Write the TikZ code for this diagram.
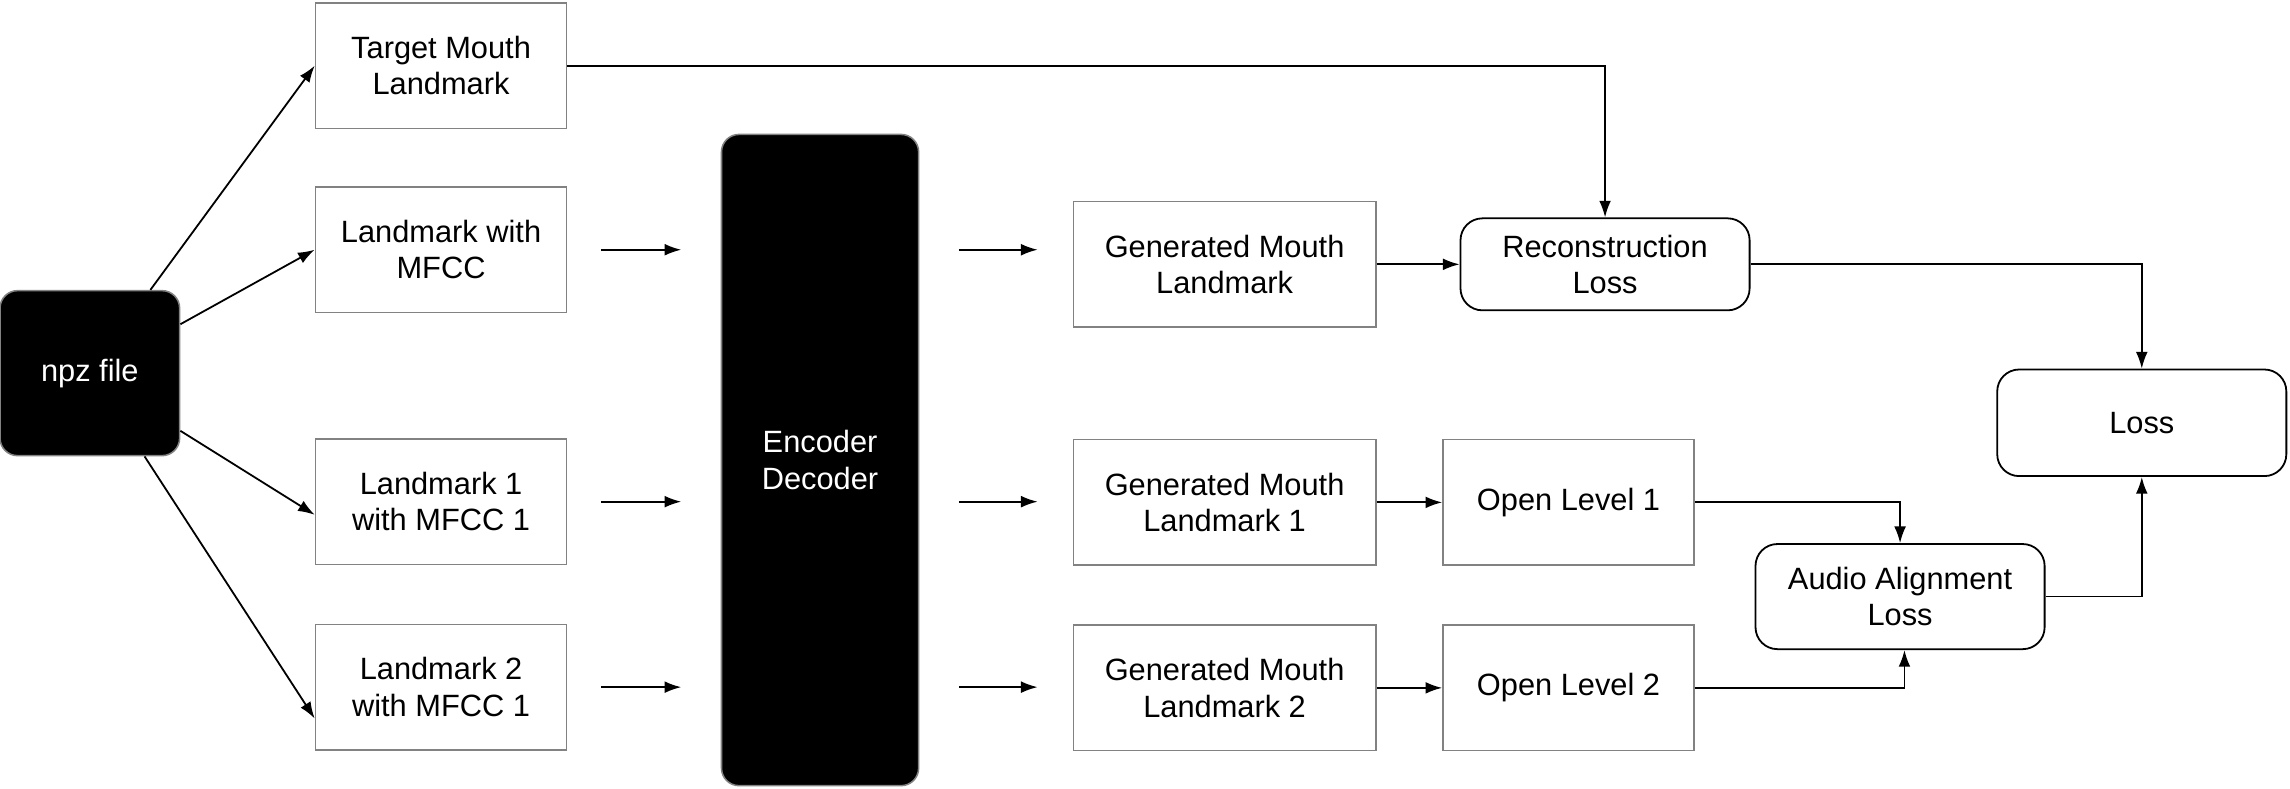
\documentclass[tikz,border=0pt]{standalone}
\usepackage{fontspec}
\setmainfont{Liberation Sans}
\usepackage{tikz}
\usetikzlibrary{calc,positioning,arrows.meta}

\definecolor{boxgray}{RGB}{130,130,130}

\begin{document}
\begin{tikzpicture}[x=0.02cm, y=-0.02cm, >={Latex[length=6.5pt,width=4.6pt]},
    every node/.style={font=\fontsize{12}{14.2}\selectfont, align=center, inner sep=0pt},
    box/.style={draw=boxgray, line width=0.6pt, minimum width=3.44cm, minimum height=1.72cm},
    genbox/.style={box, minimum width=4.14cm},
    blk/.style={draw=boxgray, line width=0.6pt, fill=black, text=white, rounded corners=0.24cm},
    lossbox/.style={draw=black, line width=0.7pt, rounded corners=0.3cm, minimum width=3.96cm},
    conn/.style={->, line width=0.7pt}]
            \useasboundingbox (0,0) rectangle (1568,540);

            \node[blk, minimum width=2.46cm, minimum height=2.26cm] (npz) at (61.5,255.5) {npz file};

            \node[box] (tgt) at (302,45) {Target Mouth\\Landmark};
            \node[box] (lwm) at (302,171) {Landmark with\\MFCC};
            \node[box] (lm1) at (302,343.5) {Landmark 1\\with MFCC 1};
            \node[box] (lm2) at (302,470.5) {Landmark 2\\with MFCC 1};

            \node[blk, minimum width=2.7cm, minimum height=8.92cm] (enc) at (561.5,315) {Encoder\\Decoder};

            \node[genbox] (gml0) at (838.5,181) {Generated Mouth\\Landmark};
            \node[genbox] (gml1) at (838.5,344) {Generated Mouth\\Landmark 1};
            \node[genbox] (gml2) at (838.5,471) {Generated Mouth\\Landmark 2};

            \node[box] (ol1) at (1074,344) {Open Level 1};
            \node[box] (ol2) at (1074,471) {Open Level 2};

            \node[lossbox, minimum height=1.26cm] (rec) at (1099,181) {Reconstruction\\Loss};
            \node[lossbox, minimum height=1.44cm] (aal) at (1301,408.5) {Audio Alignment\\Loss};
            \node[lossbox, minimum height=1.46cm] (loss) at (1466.5,289.5) {Loss};

            % npz file to the inputs
            \draw[conn] ([xshift=0.83cm]npz.north) -- (tgt.west);
            \draw[conn] ([yshift=0.67cm]npz.east) -- (lwm.west);
            \draw[conn] ([yshift=-0.79cm]npz.east) -- ([yshift=-0.18cm]lm1.west);
            \draw[conn] ([xshift=0.75cm]npz.south) -- ([yshift=-0.43cm]lm2.west);

            % into and out of the encoder
            \foreach \a/\b in {lwm/gml0, lm1/gml1, lm2/gml2} {
                \draw[conn] ([xshift=0.46cm]\a.east) -- ([xshift=-0.54cm]\a.east -| enc.west);
                \draw[conn] ([xshift=0.54cm]enc.east |- \a.east) -- ([xshift=-0.48cm]\b.west |- \a.east);
            }

            \draw[conn] (tgt.east) -| (rec.north);
            \draw[conn] (gml0.east) -- (rec.west);
            \draw[conn] (gml1.east) -- (ol1.west);
            \draw[conn] (gml2.east) -- (ol2.west);
            \draw[conn] (ol1.east) -| (aal.north);
            \draw[conn] (ol2.east) -| ([xshift=0.06cm]aal.south);
            \draw[conn] (rec.east) -| (loss.north);
            \draw[conn] (aal.east) -| (loss.south);
          \end{tikzpicture}
\end{document}
